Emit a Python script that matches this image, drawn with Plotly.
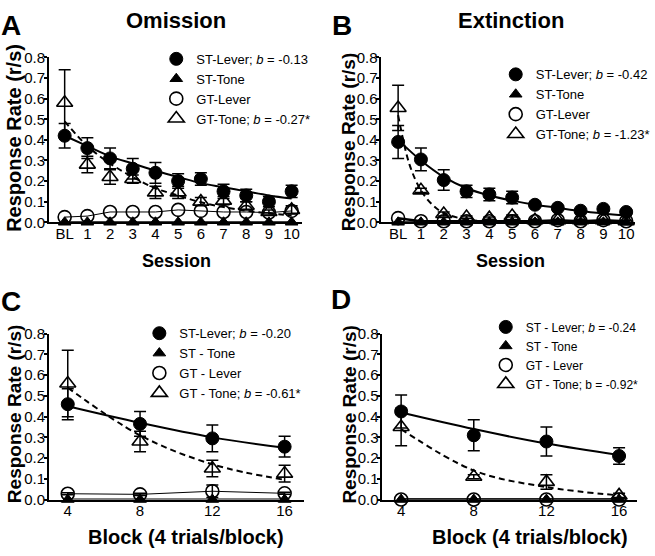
import plotly.graph_objects as go

# ---------------- data ----------------
session_x = [0, 1, 2, 3, 4, 5, 6, 7, 8, 9, 10]
session_labels = ["BL", "1", "2", "3", "4", "5", "6", "7", "8", "9", "10"]
block_x = [4, 8, 12, 16]
block_labels = ["4", "8", "12", "16"]
y_ticks = [0.0, 0.1, 0.2, 0.3, 0.4, 0.5, 0.6, 0.7, 0.8]

# Panel A (Omission)
a_st_lever = [0.42, 0.36, 0.31, 0.26, 0.24, 0.20, 0.21, 0.15, 0.13, 0.10, 0.15]
a_st_lever_err = [0.06, 0.05, 0.05, 0.05, 0.05, 0.035, 0.03, 0.035, 0.03, 0.025, 0.03]
a_st_tone = [0, 0, 0, 0, 0, 0, 0, 0, 0, 0, 0]
a_gt_lever = [0.025, 0.03, 0.05, 0.05, 0.05, 0.06, 0.055, 0.05, 0.05, 0.047, 0.055]
a_gt_tone = [0.58, 0.28, 0.22, 0.21, 0.145, 0.145, 0.10, 0.105, 0.08, 0.05, 0.06]
a_gt_tone_err = [0.16, 0.04, 0.035, 0.02, 0.03, 0.03, 0.02, 0.02, 0.02, 0.01, 0.02]
a_fit_st_lever = [0.42, 0.37, 0.32, 0.285, 0.25, 0.22, 0.19, 0.17, 0.15, 0.13, 0.115]
a_fit_gt_tone = [0.49, 0.37, 0.285, 0.22, 0.165, 0.13, 0.097, 0.074, 0.056, 0.043, 0.033]

# Panel B (Extinction)
b_st_lever = [0.39, 0.305, 0.205, 0.15, 0.135, 0.12, 0.085, 0.07, 0.056, 0.065, 0.05]
b_st_lever_err = [0.08, 0.055, 0.05, 0.03, 0.03, 0.03, 0.01, 0.01, 0.01, 0.01, 0.01]
b_st_tone = [0, 0, 0, 0, 0, 0, 0, 0, 0, 0, 0]
b_gt_lever = [0.02, 0.005, 0.005, 0.005, 0.005, 0.005, 0.005, 0.01, 0.005, 0.01, 0.005]
b_gt_tone = [0.555, 0.155, 0.04, 0.025, 0.02, 0.03, 0.01, 0.01, 0.01, 0.01, 0.005]
b_gt_tone_err = [0.11, 0.01, 0.01, 0.005, 0.005, 0.005, 0.005, 0.005, 0.005, 0.005, 0.005]
b_fit_st_lever = [0.40, 0.30, 0.22, 0.165, 0.13, 0.105, 0.085, 0.07, 0.055, 0.043, 0.033]
b_fit_gt_tone_x = [0, 0.5, 1, 1.5, 2, 3, 4, 6, 10]
b_fit_gt_tone = [0.52, 0.28, 0.155, 0.085, 0.045, 0.013, 0.004, 0.0, 0.0]

# Panel C (Omission blocks)
c_st_lever = [0.46, 0.365, 0.295, 0.255]
c_st_lever_err = [0.075, 0.06, 0.065, 0.05]
c_st_tone = [0, 0, 0, 0]
c_gt_lever = [0.028, 0.025, 0.04, 0.03]
c_gt_lever_err = [0.005, 0.005, 0.03, 0.005]
c_gt_tone = [0.56, 0.28, 0.15, 0.125]
c_gt_tone_err = [0.16, 0.05, 0.04, 0.04]
c_fit_st_lever = [0.45, 0.37, 0.30, 0.25]
c_fit_gt_tone = [0.54, 0.31, 0.17, 0.095]

# Panel D (Extinction blocks)
d_st_lever = [0.425, 0.31, 0.28, 0.21]
d_st_lever_err = [0.08, 0.075, 0.07, 0.04]
d_st_tone = [0, 0, 0, 0]
d_gt_lever = [0, 0, 0, 0]
d_gt_tone = [0.35, 0.11, 0.085, 0.02]
d_gt_tone_err = [0.09, 0.01, 0.035, 0.01]
d_fit_st_lever = [0.42, 0.34, 0.27, 0.215]
d_fit_gt_tone = [0.34, 0.14, 0.06, 0.02]

legend_a = ["ST-Lever; <i>b</i> = -0.13", "ST-Tone", "GT-Lever", "GT-Tone; <i>b</i> = -0.27*"]
legend_b = ["ST-Lever; <i>b</i> = -0.42", "ST-Tone", "GT-Lever", "GT-Tone; <i>b</i> = -1.23*"]
legend_c = ["ST-Lever; <i>b</i> = -0.20", "ST - Tone", "GT - Lever", "GT - Tone; <i>b</i> = -0.61*"]
legend_d = ["ST - Lever; <i>b</i> = -0.24", "ST - Tone", "GT - Lever", "GT - Tone; b = -0.92*"]

FONT = "Arial, Liberation Sans, sans-serif"
BLACK = "#000000"

fig = go.Figure()

W, H = 655, 556


def px_x(p):
    return p / W


def px_y(p):
    return 1 - p / H


panels = [
    dict(xa="x", ya="y", leg="legend", x=session_x, fitx=session_x,
         stl=a_st_lever, stle=a_st_lever_err, stt=a_st_tone, gtl=a_gt_lever, gtle=None,
         gtt=a_gt_tone, gtte=a_gt_tone_err, fstl=a_fit_st_lever, fgtt_x=session_x, fgtt=a_fit_gt_tone,
         names=legend_a, gtl_line=1),
    dict(xa="x2", ya="y2", leg="legend2", x=session_x, fitx=session_x,
         stl=b_st_lever, stle=b_st_lever_err, stt=b_st_tone, gtl=b_gt_lever, gtle=None,
         gtt=b_gt_tone, gtte=b_gt_tone_err, fstl=b_fit_st_lever, fgtt_x=b_fit_gt_tone_x, fgtt=b_fit_gt_tone,
         names=legend_b, gtl_line=2.5),
    dict(xa="x3", ya="y3", leg="legend3", x=block_x, fitx=block_x,
         stl=c_st_lever, stle=c_st_lever_err, stt=c_st_tone, gtl=c_gt_lever, gtle=c_gt_lever_err,
         gtt=c_gt_tone, gtte=c_gt_tone_err, fstl=c_fit_st_lever, fgtt_x=block_x, fgtt=c_fit_gt_tone,
         names=legend_c, gtl_line=1),
    dict(xa="x4", ya="y4", leg="legend4", x=block_x, fitx=block_x,
         stl=d_st_lever, stle=d_st_lever_err, stt=d_st_tone, gtl=d_gt_lever, gtle=None,
         gtt=d_gt_tone, gtte=d_gt_tone_err, fstl=d_fit_st_lever, fgtt_x=block_x, fgtt=d_fit_gt_tone,
         names=legend_d, gtl_line=2.5),
]


def err(arr):
    if arr is None:
        return None
    return dict(type="data", array=arr, visible=True, color=BLACK, thickness=1.5, width=6)


for p in panels:
    common = dict(xaxis=p["xa"], yaxis=p["ya"], cliponaxis=False)
    # fit lines
    fig.add_trace(go.Scatter(x=p["fitx"], y=p["stt"], mode="lines",
                             line=dict(color=BLACK, width=2), showlegend=False, hoverinfo="skip", **common))
    fig.add_trace(go.Scatter(x=p["x"], y=p["gtl"], mode="lines",
                             line=dict(color=BLACK, width=p["gtl_line"]), showlegend=False, hoverinfo="skip", **common))
    fig.add_trace(go.Scatter(x=p["fitx"], y=p["fstl"], mode="lines", line_shape="spline",
                             line=dict(color=BLACK, width=2), showlegend=False, hoverinfo="skip", **common))
    fig.add_trace(go.Scatter(x=p["fgtt_x"], y=p["fgtt"], mode="lines", line_shape="spline",
                             line=dict(color=BLACK, width=2, dash="6px,4px"), showlegend=False, hoverinfo="skip", **common))
    # data
    fig.add_trace(go.Scatter(x=p["x"], y=p["stl"], mode="markers", name=p["names"][0], legend=p["leg"],
                             marker=dict(symbol="circle", size=13, color=BLACK, line=dict(color=BLACK, width=1)),
                             error_y=err(p["stle"]), **common))
    fig.add_trace(go.Scatter(x=p["x"], y=p["stt"], mode="markers", name=p["names"][1], legend=p["leg"],
                             marker=dict(symbol="triangle-up", size=11, color=BLACK, line=dict(color=BLACK, width=1)),
                             **common))
    fig.add_trace(go.Scatter(x=p["x"], y=p["gtl"], mode="markers", name=p["names"][2], legend=p["leg"],
                             marker=dict(symbol="circle", size=13, color="rgba(255,255,255,0)", line=dict(color=BLACK, width=1.6)),
                             error_y=err(p["gtle"]), **common))
    fig.add_trace(go.Scatter(x=p["x"], y=p["gtt"], mode="markers", name=p["names"][3], legend=p["leg"],
                             marker=dict(symbol="triangle-up-open", size=14, color=BLACK, line=dict(color=BLACK, width=1.6)),
                             error_y=err(p["gtte"]), **common))

tickfont = dict(family=FONT, size=15, color=BLACK)


def xaxis_cfg(domain, rng, vals, labels, anchor):
    return dict(domain=domain, range=rng, tickmode="array", tickvals=vals, ticktext=labels,
                showline=True, linecolor=BLACK, linewidth=1.5, ticks="", showgrid=False, zeroline=False,
                tickfont=tickfont, anchor=anchor, fixedrange=True, ticklabelstandoff=-3)


def yaxis_cfg(domain, anchor):
    return dict(domain=domain, range=[0, 0.8], tickmode="array", tickvals=y_ticks, tickformat=".1f",
                showline=True, linecolor=BLACK, linewidth=1.5, ticks="outside", ticklen=3, tickwidth=1.5,
                tickcolor=BLACK, showgrid=False, zeroline=False, tickfont=tickfont, anchor=anchor,
                fixedrange=True, ticklabelstandoff=-4)


top_dom = [px_y(220), px_y(50)]
bot_dom = [px_y(506), px_y(335)]

fig.update_layout(
    width=W, height=H, margin=dict(l=0, r=0, t=0, b=0),
    paper_bgcolor="white", plot_bgcolor="white",
    font=dict(family=FONT, color=BLACK),
    xaxis=xaxis_cfg([px_x(49), px_x(303)], [-0.7, 10.44], session_x, session_labels, "y"),
    yaxis=yaxis_cfg(top_dom, "x"),
    xaxis2=xaxis_cfg([px_x(383), px_x(638)], [-0.74, 10.39], session_x, session_labels, "y2"),
    yaxis2=yaxis_cfg(top_dom, "x2"),
    xaxis3=xaxis_cfg([px_x(49), px_x(305)], [2.95, 17.05], block_x, block_labels, "y3"),
    yaxis3=yaxis_cfg(bot_dom, "x3"),
    xaxis4=xaxis_cfg([px_x(384), px_x(640)], [2.96, 16.99], block_x, block_labels, "y4"),
    yaxis4=yaxis_cfg(bot_dom, "x4"),
)

leg_common = dict(bgcolor="rgba(0,0,0,0)", borderwidth=0, xanchor="left", yanchor="top",
                  itemclick=False, itemdoubleclick=False, tracegroupgap=0)
fig.update_layout(
    legend=dict(x=px_x(157), y=px_y(36), font=dict(family=FONT, size=13, color=BLACK), **leg_common),
    legend2=dict(x=px_x(498), y=px_y(52), font=dict(family=FONT, size=13, color=BLACK), **leg_common),
    legend3=dict(x=px_x(140), y=px_y(319), font=dict(family=FONT, size=13, color=BLACK), **leg_common),
    legend4=dict(x=px_x(488), y=px_y(313), font=dict(family=FONT, size=12, color=BLACK), **leg_common),
)

ann = []


def text(x, y, s, size, angle=0):
    ann.append(dict(x=px_x(x), y=px_y(y), xref="paper", yref="paper", text=s, showarrow=False,
                    font=dict(family=FONT, size=size, color=BLACK), xanchor="center", yanchor="middle",
                    textangle=angle))


text(11, 17, "<b>A</b>", 28)
text(344, 17, "<b>B</b>", 28)
text(11, 302, "<b>C</b>", 28)
text(343, 300, "<b>D</b>", 28)
text(177, 12, "<b>Omission</b>", 22)
text(513, 12, "<b>Extinction</b>", 22)
text(14, 133, "<b>Response Rate (r/s)</b>", 20, -90)
text(350, 137, "<b>Response Rate (r/s)</b>", 19, -90)
text(14, 418, "<b>Response Rate (r/s)</b>", 19, -90)
text(351, 418, "<b>Response Rate (r/s)</b>", 19, -90)
text(177, 260, "<b>Session</b>", 18)
text(513, 260, "<b>Session</b>", 18)
text(187, 545, "<b>Block (4 trials/block)</b>", 20)
text(532, 545, "<b>Block (4 trials/block)</b>", 20)
fig.update_layout(annotations=ann)

fig.write_html("out.html", config={"displayModeBar": False},
               post_script="document.body.style.margin='0px';document.body.style.overflow='hidden';")
